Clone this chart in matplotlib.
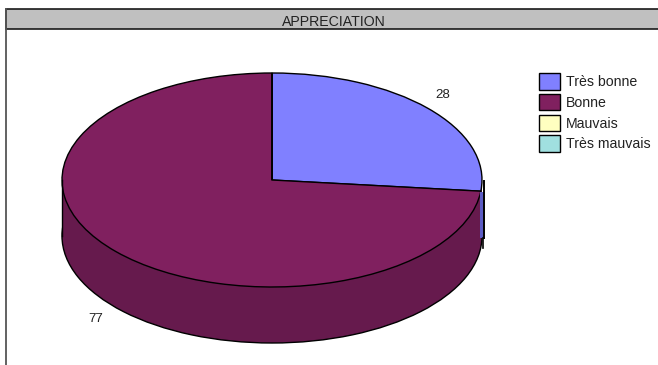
import numpy as np
import matplotlib
matplotlib.use('Agg')
import matplotlib.pyplot as plt
from matplotlib.patches import Patch, Rectangle

plt.rcParams['font.family'] = ['Liberation Sans', 'DejaVu Sans']

# Data
title = 'APPRECIATION'
categories = ['Très bonne', 'Bonne', 'Mauvais', 'Très mauvais']
values = [28, 77, 0, 0]
colors = ['#8080FF', '#80205F', '#FFFFC0', '#A0E0E0']
wall_blue = '#5C5CC4'
wall_red = '#661A4D'

W, H = 658, 365
fig = plt.figure(figsize=(W / 100, H / 100), dpi=100, facecolor='white')

# background axes in pixel coordinates for the frame and labels
bg = fig.add_axes([0, 0, 1, 1])
bg.set_xlim(0, W)
bg.set_ylim(H, 0)
bg.axis('off')

bg.add_patch(Rectangle((5.5, 8.5), W, 20.5, facecolor='#C0C0C0', edgecolor='#1A1A1A', lw=1.2))
bg.plot([5.5, 5.5], [8.5, H], color='#555555', lw=1.3)
bg.text(334, 21.5, title, ha='center', va='center', fontsize=10.2, color='#222222')

# pie geometry in pixels
cx, cy, rx, ry, depth = 272, 180, 210, 107, 56

# pie() uses limits of -1.25..1.25, so the axes is sized to squash the circle
ax = fig.add_axes([(cx - 1.25 * rx) / W, 1 - (cy + 1.25 * (ry + depth)) / H,
                   2.5 * rx / W, 2.5 * (ry + depth) / H])
d = depth / ry
r_y = ry / (ry + depth)

wedge_style = {'edgecolor': 'black', 'linewidth': 1.0}

# lower face, then the side wall, then the top face
ax.pie([sum(values)], colors=[wall_red], startangle=90, wedgeprops=wedge_style, normalize=True)
for w in ax.patches:
    w.set_center((0, -d))

xs = np.linspace(-1, 1, 300)
ax.fill_between(xs, -d, 0, color=wall_red, lw=0)
ax.plot([-1, -1], [-d, 0], color='black', lw=1.0)

ax.pie(values, colors=colors, startangle=90, counterclock=False,
       radius=1, center=(0, 0), wedgeprops=wedge_style, normalize=True)
ax.set_aspect('auto')
ax.set_xlim(-1.25, 1.25)
ax.set_ylim(-1.25 / r_y, 1.25 / r_y)

# side sliver of the first slice at the right edge
top = fig.add_axes([0, 0, 1, 1])
top.set_xlim(0, W)
top.set_ylim(H, 0)
top.axis('off')
top.add_patch(Rectangle((480, 192), 2.5, 46, facecolor=wall_blue, lw=0))
top.plot([484, 484], [181, 238], color='black', lw=1.4)
top.plot([482.5, 482.5], [238, 248], color='black', lw=1.2)

top.text(443, 95, str(values[0]), ha='center', va='center', fontsize=9.6, color='#222222')
top.text(96, 319, str(values[1]), ha='center', va='center', fontsize=9.6, color='#222222')

handles = [Patch(facecolor=c, edgecolor='black', lw=1.0) for c in colors]
fig.legend(handles, categories, loc='upper left', bbox_to_anchor=(539 / W, 1 - 73 / H),
           frameon=False, fontsize=10.2, labelcolor='#222222', handlelength=1.45, handleheight=1.42,
           labelspacing=0.3, handletextpad=0.47, borderpad=0, borderaxespad=0)

fig.savefig('out.png', dpi=100)
